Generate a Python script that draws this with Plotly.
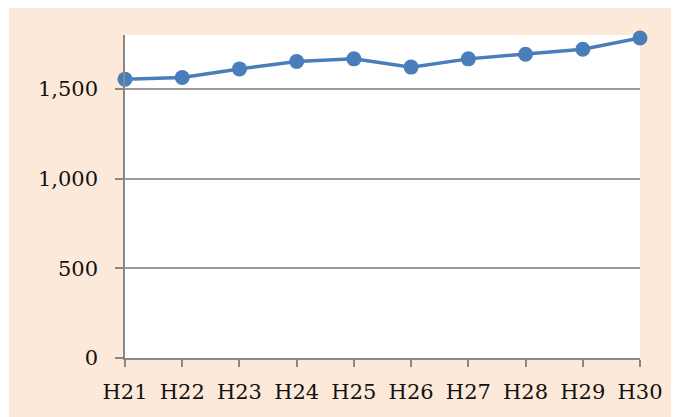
import plotly.graph_objects as go

years = ["H21", "H22", "H23", "H24", "H25", "H26", "H27", "H28", "H29", "H30"]
values = [1554, 1563, 1611, 1652, 1667, 1621, 1667, 1693, 1721, 1783]
y_ticks = [0, 500, 1000, 1500]

# page body has an 8px margin; size the figure so it ends at the window edge
W, H = 671, 409
L, R, T, B = 117, 39, 27, 59
pw, ph = W - L - R, H - T - B

peach = "#FDE9D9"
gray = "#888888"
font = dict(family="DejaVu Serif", size=21, color="#111111")

fig = go.Figure()
fig.add_trace(go.Scatter(
    x=years, y=values, mode="lines+markers",
    line=dict(color="#4A7EBB", width=3.5),
    marker=dict(color="#4A7EBB", size=15),
    cliponaxis=False, showlegend=False,
))

fig.update_layout(
    width=W, height=H,
    margin=dict(l=L, r=R, t=T, b=B, pad=0),
    paper_bgcolor=peach, plot_bgcolor="white",
    font=font,
    shapes=[
        dict(type="rect", xref="paper", yref="paper", layer="above",
             x0=-L / pw - 0.01, x1=(1 - L) / pw, y0=-B / ph - 0.01, y1=(T + ph) / ph + 0.01,
             fillcolor="white", line=dict(width=0)),
    ],
)
fig.update_xaxes(
    type="category", range=[0, 9],
    showline=True, linecolor=gray, linewidth=1.5,
    ticks="outside", ticklen=7, tickwidth=1.5, tickcolor=gray,
    showgrid=False, ticklabelstandoff=7,
)
fig.update_yaxes(
    range=[0, 1800], tickvals=y_ticks, tickformat=",",
    showline=True, linecolor=gray, linewidth=1.5,
    ticks="outside", ticklen=8, tickwidth=1.5, tickcolor=gray,
    showgrid=True, gridcolor="#9a9a9a", gridwidth=1.5, zeroline=False,
    ticklabelstandoff=13,
)

fig.write_html("out.html")
